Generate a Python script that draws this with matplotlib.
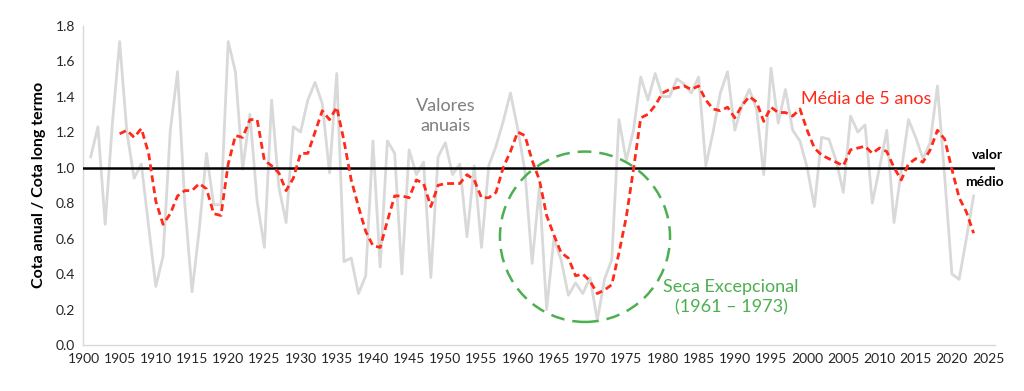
import numpy as np
import matplotlib.pyplot as plt
from matplotlib.patches import Ellipse

plt.rcParams['font.family'] = ['Lato', 'DejaVu Sans']

# annual values (cota anual / cota long termo), 1901-2023
years = np.arange(1901, 2024)
annual = [1.06, 1.23, 0.68, 1.25, 1.71, 1.20, 0.94, 1.02, 0.67, 0.33,
          0.50, 1.21, 1.54, 0.80, 0.30, 0.65, 1.08, 0.79, 0.79, 1.71,
          1.54, 0.99, 1.30, 0.81, 0.55, 1.38, 0.89, 0.69, 1.23, 1.20,
          1.38, 1.48, 1.36, 0.97, 1.53, 0.47, 0.49, 0.29, 0.39, 1.15,
          0.44, 1.15, 1.08, 0.40, 1.10, 0.96, 1.03, 0.38, 1.06, 1.14,
          0.96, 1.02, 0.61, 1.01, 0.55, 1.01, 1.12, 1.26, 1.42, 1.22,
          0.98, 0.46, 0.89, 0.20, 0.60, 0.48, 0.28, 0.35, 0.29, 0.38,
          0.14, 0.37, 0.48, 1.27, 1.04, 1.21, 1.51, 1.38, 1.53, 1.40,
          1.40, 1.50, 1.47, 1.42, 1.51, 1.01, 1.20, 1.42, 1.54, 1.21,
          1.35, 1.44, 1.33, 0.96, 1.56, 1.25, 1.44, 1.21, 1.15, 1.00,
          0.78, 1.17, 1.16, 1.04, 0.86, 1.29, 1.20, 1.24, 0.80, 1.00,
          1.21, 0.69, 0.98, 1.27, 1.17, 1.05, 1.14, 1.46, 0.95, 0.40,
          0.37, 0.60, 0.84]

# 5-year mean, 1905-2023
years_mean = np.arange(1905, 2024)
mean5 = [1.19, 1.21, 1.17, 1.22, 1.08, 0.81, 0.68, 0.74, 0.84, 0.87,
         0.87, 0.91, 0.88, 0.74, 0.73, 1.02, 1.18, 1.17, 1.27, 1.27,
         1.04, 1.01, 0.97, 0.87, 0.94, 1.08, 1.08, 1.20, 1.32, 1.27,
         1.34, 1.15, 0.93, 0.78, 0.64, 0.56, 0.55, 0.70, 0.84, 0.84,
         0.83, 0.93, 0.91, 0.78, 0.90, 0.91, 0.91, 0.91, 0.96, 0.93,
         0.83, 0.83, 0.86, 1.00, 1.09, 1.20, 1.18, 1.04, 0.93, 0.73,
         0.62, 0.52, 0.49, 0.39, 0.40, 0.36, 0.29, 0.31, 0.34, 0.52,
         0.72, 0.99, 1.28, 1.30, 1.35, 1.42, 1.44, 1.45, 1.46, 1.44,
         1.46, 1.38, 1.33, 1.32, 1.34, 1.28, 1.35, 1.40, 1.37, 1.26,
         1.34, 1.31, 1.31, 1.29, 1.33, 1.21, 1.11, 1.07, 1.05, 1.03,
         1.01, 1.10, 1.11, 1.12, 1.08, 1.11, 1.09, 1.00, 0.93, 1.02,
         1.05, 1.03, 1.10, 1.21, 1.16, 0.99, 0.83, 0.75, 0.63]

mean_value = 1.0
x_ticks = np.arange(1900, 2026, 5)
y_ticks = np.arange(0, 1.81, 0.2)

fig = plt.figure(figsize=(10.24, 3.91), dpi=100)
ax = fig.add_axes([0.0815, 0.1176, 0.8905, 0.817])

ax.plot(years, annual, color='#d9d9d9', lw=2.0, zorder=2)
ax.plot(years_mean, mean5, color='#ff2a1a', lw=2.0, linestyle=(0, (2.5, 1.5)), zorder=4)
ax.axhline(mean_value, color='black', lw=1.8, zorder=3)

# seca excepcional
circle = Ellipse((1969.3, 0.61), 23.5, 0.96, fill=False, edgecolor='#4caf50',
                 lw=1.8, linestyle=(0, (5.5, 3.2)), zorder=5)
ax.add_patch(circle)

ax.text(1950.0, 1.29, 'Valores\nanuais', color='#7f7f7f', fontsize=13,
        ha='center', va='center', linespacing=1.3)
ax.text(2008.1, 1.386, 'Média de 5 anos', color='#ff2a1a', fontsize=13,
        ha='center', va='center')
ax.text(1989.5, 0.268, 'Seca Excepcional\n(1961 – 1973)', color='#4caf50',
        fontsize=13, ha='center', va='center', linespacing=1.35)
ax.text(2024.9, 1.07, 'valor', fontsize=10, fontweight='bold', ha='center',
        va='center', clip_on=False)
ax.text(2024.5, 0.92, 'médio', fontsize=10, fontweight='bold', ha='center',
        va='center', clip_on=False)

ax.set_xlim(1900, 2026)
ax.set_ylim(0, 1.8)
ax.set_xticks(x_ticks)
ax.set_yticks(y_ticks)
ax.set_yticklabels([f'{v:.1f}' for v in y_ticks])
ax.tick_params(length=0, labelsize=10, colors='#262626', pad=6)
ax.set_ylabel('Cota anual / Cota long termo', fontsize=11.5, fontweight='bold', labelpad=7)

for s in ['top', 'right']:
    ax.spines[s].set_visible(False)
for s in ['left', 'bottom']:
    ax.spines[s].set_color('#d9d9d9')
    ax.spines[s].set_linewidth(1.0)

fig.savefig('out.png', dpi=100)
